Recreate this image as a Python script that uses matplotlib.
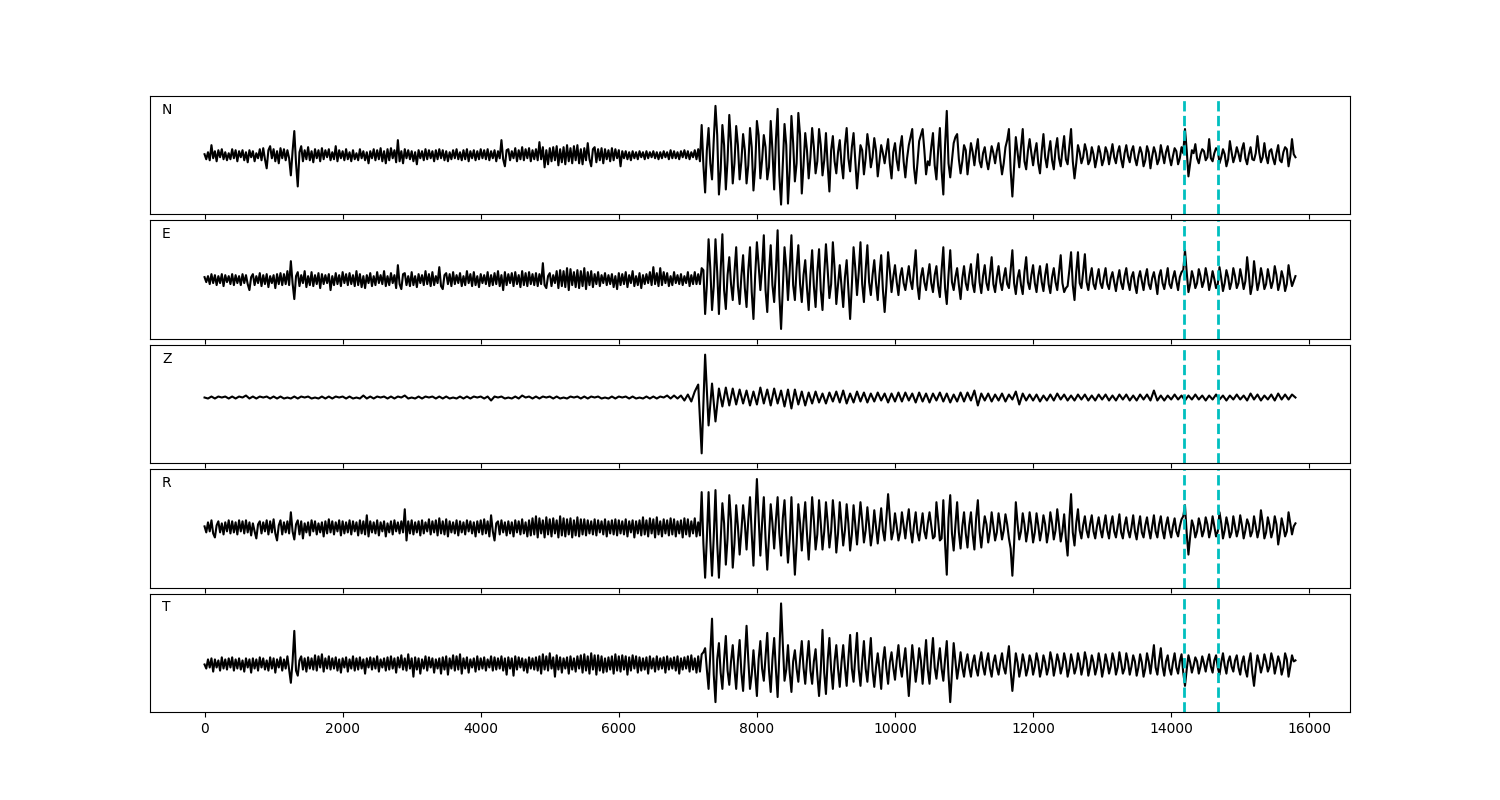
import numpy as np
import matplotlib
matplotlib.use("Agg")
import matplotlib.pyplot as plt

# ---- data (amplitude values, arbitrary units) ----
END_TIME = 15800          # last sample time
ONSET_T = 7200            # start of the strong-motion part
QUIET_DT = 25             # sample step of the pre-event noise
PICKS = [14180, 14680]    # dashed marker times
CHANNELS = ["N", "E", "Z", "R", "T"]

# pre-event noise, one value every 25 time units from t=0
N_quiet = [
    1,-4,3,-5,10,-3,4,-6,5,-2,6,-4,3,-5,2,-4,6,-3,5,-6,4,-2,5,-5,
    3,-7,5,-2,4,-6,2,-3,6,-5,7,-4,-13,5,9,-3,6,-6,4,-8,7,-3,6,-5,
    5,-3,-20,4,24,-8,-31,3,9,-6,5,-4,8,-5,4,-7,6,-3,5,-6,7,-4,5,-2,
    6,-5,3,-4,9,-6,5,-3,4,-5,6,-4,3,-6,5,-4,2,-5,6,-3,4,-5,3,-8,
    4,-3,6,-5,5,-4,7,-6,4,-8,6,-5,7,-3,5,-7,15,-6,4,-8,6,-3,5,-4,
    4,-6,3,-9,5,-3,4,-5,6,-4,5,-3,4,-6,5,-4,6,-3,5,-5,4,-6,3,-4,
    5,-3,6,-4,3,-5,5,-4,6,-6,4,-3,5,-5,4,-4,6,-3,5,-4,6,-5,4,-3,
    5,-6,4,-3,15,-4,-11,5,6,-5,4,-3,7,-6,5,-4,8,-5,6,-3,7,-6,5,-4,
    6,-5,13,-4,8,-12,5,-9,7,-6,8,-5,9,-10,6,-7,8,-9,10,-6,7,-8,9,-5,
    10,-8,6,-9,7,-5,12,-4,-11,6,8,-7,6,-5,7,-8,6,-4,5,-6,7,-5,6,-3,
    5,-11,4,-3,4,-4,3,-5,4,-3,3,-4,4,-2,3,-4,4,-3,3,-2,4,-3,3,-4,
    3,-3,4,-2,3,-4,5,-3,4,-3,3,-4,4,-2,5,-3,4,-4,3,-2,5,-4,6,-6,
]
# strong-motion part: main samples every 50 units from ONSET_T, and in-between samples
N_vals = [
    30,-37,27,-24,49,-39,
    30,-34,40,-28,29,-24,21,-28,27,-35, 34,-23,20,-24,34,-34,46,-49,31,-48,
    39,-26,42,-38,22,-23,27,-18,26,-20, 22,-36,19,-18,15,-23,27,-16,22,-33,
    10,-19,21,-12,17,-21,10,-8,16,-23, 12,-15,19,-22,10,26,-28,14,26,-19,
    -10,22,-24,27,-39,44,-22,12,21,-18, 10,-19,12,-10,16,-12,8,-14,9,-8,
    12,-19,8,26,-41,18,-12,26,-14,16, -10,12,-18,21,-12,14,-14,17,-11,19,
    -9,26,-23,
    10,-8,11,-9,8,-12,9,-10,8,-9, 11,-8,9,-12,10,-7,9,-10,8,-11, 9,-13,8,-9,10,-8,9,-10,7,-9, 8,
    26,-21,5,
    11,-8,6,-5,16,-6,7,-8,6,-11, 14,-7,8,-6,12,-9,8,-5,19,-7, 12,-8,6,-9,10,-7,8,-11,16,-2,
]
N_mid = [
    -10,5,-8,15,20,-15,
    10,-5,12,-8,10,-6,5,-10,8,-12, 20,-5,8,-12,5,15,-20,-10,10,-15,
    12,-8,20,-10,5,-2,8,-6,10,-5, -10,5,-6,3,-8,10,-3,8,-5,-12,
    5,-3,8,-2,5,-6,2,4,-8,3, -5,8,-6,-3,18,-12,-8,20,5,-6,
    8,-10,5,-15,10,-8,-5,18,-4,-6, 5,-4,3,5,-6,2,-5,-3,2,4,
    -5,-8,15,-15,-12,3,8,-6,4,2, 3,-8,4,-2,3,-5,6,-3,5,-4,
    8,-6,-8,
    3,-2,4,-5,1,-3,2,-4,3,1, -2,3,-4,2,-1,4,-3,0,2,-5, 3,-1,2,-4,1,3,-2,-1,4,-3,
    2,5,-8,2,-3,1,4,-2,-3,2, 5,-2,1,-4,3,-1,2,6,-3,1, -4,2,3,-2,-1,4,-3,2,-5,3,
    6,-1,1,
]

E_quiet = [
    3,-2,4,-4,6,-3,5,-5,4,-3,6,-6,5,-2,4,-4,6,-5,5,-3,4,-5,6,-3,
    5,-4,-10,3,6,-5,4,-3,7,-6,5,-4,6,-7,4,-3,5,-8,6,-4,7,-5,6,-4,
    9,-5,19,-3,-19,4,8,-6,5,-3,9,-7,4,-5,8,-6,5,-4,7,-8,6,-4,5,-3,
    6,-10,4,-5,7,-4,5,-6,8,-3,6,-5,7,-4,5,-6,9,-5,6,-7,4,-8,5,-3,
    7,-6,4,-5,8,-3,5,-4,9,-6,4,-5,7,-3,5,-8,15,-4,-9,6,7,-5,4,-6,
    8,-5,4,-7,6,-3,5,-5,9,-4,6,-6,8,-5,4,-3,13,-6,-9,5,7,-4,6,-6,
    8,-4,5,-3,7,-6,4,-5,9,-3,6,-6,8,-5,4,-7,6,-3,5,-4,8,-6,5,-5,
    7,-4,9,-6,5,-10,8,-5,6,-3,7,-6,8,-4,5,-7,9,-5,7,-6,8,-4,6,-5,
    7,-6,6,-4,17,-5,-8,4,7,-6,5,-3,9,-8,10,-6,9,-7,12,-10,11,-5,8,-7,
    10,-8,9,-6,12,-9,8,-5,9,-7,6,-4,8,-6,5,-3,7,-5,5,-4,6,-7,4,-9,
    7,-5,6,-4,8,-7,5,-3,9,-6,4,-5,7,-8,5,-4,6,-3,8,-5,13,-4,7,-6,
    12,-5,8,-3,7,-6,4,-5,8,-3,5,-4,6,-5,4,-3,8,-6,5,-4,8,-4,6,-4,
]
E_vals = [
    12,-34,41,-30,41,-34,
    46,-29,23,-20,33,-24,25,-27,33,-39, 38,-10,45,-32,35,-22,50,-49,33,-20,
    45,-20,35,-22,20,-30,30,-27,31,-30, 36,-18,38,-24,15,-27,20,-39,33,-15,
    38,-22,35,-15,20,-20,25,-32,28,-12, 15,-15,12,-10,14,-9,30,-19,12,-10,
    16,-12,14,-17,33,-24,30,-10,12,-19, 14,-10,16,-12,26,-13,15,-10,23,-12,
    14,-10,12,-8,30,-14,10,-14,23,-9, 15,-12,14,-11,16,-13,12,-10,25,-12,
    -6,28,-20,28,-8,26,-10,12,-9,11,
    -8,12,-9,8,-11,10,-9,12,-10,8,-13,9,-10,11,-9,8,-14,10,-9,12,-8,9,-10,8,
    30,-12,9,-8,11,-7,12,-10,9,-8,13,-11,10,-9,12,-8,11,-9,23,-14,19,-10,12,-9,11,-8,14,-10,9,-11,15,-6,4,
]
E_mid = [
    10,-5,12,-6,8,10,
    -10,5,-4,8,-6,4,-8,10,-12,5, 15,12,-10,8,-5,10,-15,-8,12,10,
    -5,12,-4,5,-8,5,-6,8,-10,6, 10,-4,12,-5,-6,3,-10,-5,12,8,
    -4,10,-2,5,-3,6,-10,-6,10,3, -2,4,-3,2,-1,10,-5,3,-2,4,
    -3,5,-6,10,-8,5,-2,3,-5,2, -3,5,-4,8,-2,4,-3,6,-4,3,
    -2,3,-4,10,-3,2,-5,8,-2,5, -3,4,-2,5,-4,3,-2,8,-3,-8,
    10,-5,8,-3,8,-2,3,-4,2,-3,
    3,-4,2,-2,1,-3,4,-2,3,-5,2,-1,3,-4,2,-2,4,-3,1,-4,2,-1,3,10,
    8,-4,2,-3,4,-1,3,-2,1,-4,2,-3,3,-2,4,-3,2,-1,6,-5,4,-2,3,-4,2,-1,5,-3,2,-4,3,-1,
]

# Z: single series, one value every 50 time units from t=0
Z_vals = [
    0,-1,1,-1,1,0,1,-1,1,-1, 1,0,2,-1,1,-1,1,0,1,-1, 1,-1,1,-1,0,-1,1,-1,1,0,
    1,-1,0,-1,1,-1,1,-1,1,0, 1,-1,1,-1,0,-1,2,-1,1,-1, 1,0,1,-1,1,-1,1,0,2,-1,
    0,-1,1,-1,1,0,1,-1,1,-1, 1,-1,0,-1,1,-1,1,-1,1,0, 1,-1,1,-3,1,0,1,-1,0,-1,
    1,-1,2,0,1,-1,1,-1,1,0, 1,-1,1,-1,0,-1,1,0,1,-1, 1,-1,1,0,1,-1,0,-1,1,-1,
    1,0,1,-1,1,-1,0,-1,1,-1, 1,-1,1,0,2,-1,2,-1,2,-3, 3,-4,6,13,-56,43,-28,14,-24,9,
    -9,10,-8,9,-7,8,-6,7,-8,6, -7,10,-6,8,-8,9,-6,7,-9,8, -11,8,-7,6,-8,5,-6,6,-5,4,
    -6,5,-4,6,-5,7,-6,4,-5,6, -4,5,-5,4,-4,5,-3,4,-5,4, -4,5,-4,5,-3,4,-5,5,-4,4,
    -5,4,-3,5,-4,4,-5,3,-4,5, -4,5,-3,7,-8,4,-3,4,-4,3, -3,4,-4,3,-2,6,-7,4,-3,3,
    -3,3,-4,2,-3,3,-3,4,-2,3, -3,2,-3,3,-2,3,-3,2,-3,3, -2,3,-3,2,-3,3,-2,3,-3,2,
    -3,3,-2,3,-3,7,-3,2,-3,2, -2,3,-2,2,-3,2,-2,3,-2,2, -3,2,-2,3,-2,2,-3,2,-2,3,
    -2,2,-3,4,-2,3,-3,2,-2,3, -3,4,-2,3,-2,3,0,
]

R_quiet = [
    2,-4,6,-3,8,-5,-9,3,7,-4,5,-6,6,-3,8,-5,7,-4,6,-6,8,-3,7,-5,
    8,-4,6,-7,5,-3,-10,4,7,-5,6,-3,8,-6,7,-4,9,-5,-12,3,8,-6,6,-4,
    7,-5,16,-3,-11,4,8,-6,7,-10,5,-4,6,-7,8,-3,7,-6,5,-4,6,-8,7,-5,
    9,-4,7,-6,6,-3,8,-7,7,-5,6,-4,8,-6,7,-3,6,-7,8,-5,7,-6,13,-8,
    7,-4,6,-5,8,-7,6,-3,7,-8,5,-4,7,-6,8,-3,6,-5,7,-4,19,-12,7,-5,
    8,-6,6,-4,7,-7,8,-5,6,-3,9,-6,7,-4,8,-7,10,-5,7,-6,9,-8,7,-4,
    6,-5,8,-7,7,-4,6,-6,8,-3,7,-5,6,-8,7,-4,8,-6,9,-5,7,-8,13,-3,
    -12,5,7,-6,8,-4,6,-7,7,-5,6,-8,8,-4,7,-6,9,-5,6,-8,8,-7,10,-6,
    12,-9,10,-5,8,-9,11,-6,9,-8,10,-5,8,-9,12,-7,10,-8,9,-6,10,-9,8,-7,
    11,-8,9,-6,9,-7,8,-5,7,-6,9,-7,8,-4,7,-6,9,-8,7,-5,8,-6,9,-7,
    8,-5,7,-6,9,-8,7,-4,8,-9,7,-5,8,-7,11,-6,8,-8,10,-5,9,-9,11,-6,
    7,-8,9,-5,8,-7,10,-6,9,-8,7,-5,8,-9,10,-6,9,-8,7,-5,10,-8,6,-7,
]
R_vals = [
    36,-49,36,-47,38,-49,
    25,-36,33,-39,23,-26,23,-21,31,-37, 49,-27,31,-41,24,-20,31,-27,28,-34,
    31,-46,24,-22,26,-31,31,-21,28,-21, 26,-19,28,-24,26,-17,24,-22,23,-16,
    26,-14,21,-17,18,-15,20,-12,34,-11, 15,-12,16,-10,19,-14,16,-12,15,-10,
    16,-10,26,-12,28,-46,33,-22,26,-20, 16,-19,16,-21,28,-19,12,-14,16,-12,
    15,-11,14,-10,-47,26,-11,15,-13,16, -14,15,-12,13,-14,16,-11,19,-13,14,
    -27,34,-17,19,-10,12,-9,13,-10,11,
    -9,13,-10,12,-9,14,-10,11,-9,13,-11,12,-9,11,-10,13,-9,12,-10,11,-9,10,-8,9,
    23,-26,8,-9,10,-8,11,-9,12,-8,16,-10,11,-9,12,-8,13,-10,9,-8,12,-9,18,-10,11,-9,12,-16,10,-8,16,-6,5,
]
R_mid = [
    -15,-10,-12,-8,-15,-12,
    5,-10,8,-15,2,-3,5,8,-5,10, 12,5,-10,-8,5,8,-5,10,-6,-10,
    -12,-15,5,6,-5,-3,8,-6,5,-3, 6,-3,8,-5,4,-2,5,-6,3,5,
    8,-2,3,-4,2,3,-2,10,12,-3, 2,-4,3,6,-2,3,-4,2,-3,5,
    3,-8,8,-10,-15,10,-5,3,-4,2, -5,3,-6,10,-3,-2,4,-3,2,-4,
    3,-2,4,-20,-15,5,-3,4,-2,3, -4,3,-2,4,-3,5,-2,4,-3,-10,
    8,-4,5,-2,3,-2,4,-3,2,-1,
    3,-2,4,-3,2,-4,3,-2,1,-3,2,-4,3,-1,2,-3,4,-2,3,-1,2,-3,2,12,
    -5,-8,2,-3,3,-2,4,-1,2,-3,5,-2,3,-4,2,-1,3,-2,4,-3,2,-1,6,-4,3,-2,4,-5,2,-3,5,2,
]

T_quiet = [
    0,-4,5,-3,6,-7,5,-3,4,-6,7,-4,5,-5,6,-3,7,-6,5,-4,6,-5,4,-7,
    6,-3,5,-8,6,-4,5,-6,7,-3,6,-5,4,-6,7,-4,6,-8,5,-3,7,-6,5,-4,
    8,-5,-18,3,33,-6,-11,4,8,-5,6,-7,7,-4,6,-5,9,-6,8,-3,10,-7,6,-4,
    8,-5,6,-4,7,-6,5,-8,6,-3,7,-7,5,-4,8,-6,6,-5,7,-4,5,-9,6,-3,
    7,-5,6,-4,8,-7,5,-3,6,-6,7,-5,8,-4,6,-8,7,-3,9,-5,6,-6,10,-4,
    6,-12,7,-5,6,-9,5,-4,8,-6,7,-3,6,-8,5,-4,6,-9,7,-5,8,-10,6,-4,
    9,-6,8,-5,10,-9,6,-4,7,-8,5,-3,6,-7,8,-5,6,-4,7,-6,5,-3,8,-6,
    7,-5,6,-4,8,-6,6,-10,7,-4,6,-11,8,-5,7,-3,6,-6,5,-8,7,-4,6,-5,
    7,-6,8,-9,10,-5,8,-6,11,-4,7,-12,9,-5,7,-8,6,-4,7,-9,8,-5,6,-7,
    8,-4,9,-8,10,-6,8,-9,11,-5,9,-10,9,-6,8,-8,6,-7,7,-5,8,-9,10,-6,
    8,-7,9,-5,8,-10,7,-6,9,-4,8,-8,7,-6,6,-5,7,-9,8,-4,6,-7,8,-5,
    6,-4,7,-8,8,-5,6,-4,7,-6,8,-9,6,-5,7,-4,8,-7,9,-5,6,-8,8,-7,
]
T_vals = [
    10,16,-24,45,-37,21,
    -24,28,-20,19,-24,24,-26,38,-24,14, -31,23,-16,31,-27,26,-32,60,-16,19,
    -27,14,-17,23,-19,23,-19,15,-31,34, -29,26,-24,19,-22,19,-21,29,-17,31,
    -21,23,-17,26,-22,11,-24,17,-19,12, -15,19,-12,16,-31,19,-17,16,-19,24,
    -19,26,-14,16,-16,23,-37,21,-14,12, -12,10,-12,9,-11,12,-10,11,-12,9,
    -10,11,-9,18,-26,11,-12,10,-11,9, -10,11,-12,9,-10,12,-11,10,-9,11,
    -12,10,-9,11,-10,12,-11,9,-10,11, -12,10,-9,11,-10,12,-9,11,-10,9,
    -11,10,-12,11,-9,19,-10,16,-11,9, -10,11,-9,10,
    -21,9,-8,7,-9,8,-7,10,-8,9,-10,11,-9,8,-7,9,-10,8,-12,11,-21,9,-8,10,-7,11,-9,8,-10,11,-12,9,4,
]
T_mid = [
    12,-5,10,-10,5,-8,
    5,-6,3,-5,4,-8,6,5,-10,-8, 5,-4,8,-6,5,-5,10,20,-5,-8,
    3,-4,5,-3,4,-6,3,-10,-5,-8, 4,-5,3,-4,2,-3,6,-4,8,-5,
    3,-4,5,-6,-3,-5,3,-4,2,-3, 4,-2,3,-8,-5,2,-3,4,3,-5,
    6,-3,2,-4,5,-10,-8,3,-2,-3, 2,-3,2,-4,3,-2,3,-4,2,-3,
    2,-3,5,-6,-8,2,-3,2,-4,3, -2,3,-4,2,-3,4,-2,3,-2,3,
    -4,2,-3,3,-2,4,-3,2,-3,2, -3,2,-2,4,-3,2,-4,3,-2,3,
    -3,2,-4,3,5,-3,4,-2,3,-4, 2,-3,3,-8,
    -5,2,-1,3,-2,1,3,-2,4,-3,2,-1,3,-2,4,-3,2,-5,3,-8,-4,2,-1,3,-2,4,-1,2,-3,5,-2,3,
]

TRACES = {
    "N": (N_quiet, N_vals, N_mid),
    "E": (E_quiet, E_vals, E_mid),
    "Z": (None, Z_vals, None),
    "R": (R_quiet, R_vals, R_mid),
    "T": (T_quiet, T_vals, T_mid),
}


def build(quiet, vals, mids):
    """Return (time, amplitude) arrays for one channel."""
    if quiet is None:
        v = np.asarray(vals, float)
        return np.linspace(0, END_TIME, len(v)), v
    q = np.asarray(quiet, float)
    tq = np.arange(len(q)) * QUIET_DT
    c = np.asarray(vals, float)
    tc = np.linspace(ONSET_T, END_TIME, len(c))
    m = np.asarray(mids, float)
    if len(m) == len(c) - 1:
        tm = 0.5 * (tc[:-1] + tc[1:])
    else:
        tm = np.linspace(tc[0], tc[-1], len(m) + 2)[1:-1]
    t = np.concatenate([tq, tc, tm])
    y = np.concatenate([q, c, m])
    order = np.argsort(t, kind="stable")
    return t[order], y[order]


# ---- plotting ----
fig, axes = plt.subplots(5, 1, sharex=True, figsize=(15, 8), dpi=100)
fig.subplots_adjust(left=0.1, right=0.9, bottom=0.11, top=0.88, hspace=0.05)

for ax, name in zip(axes, CHANNELS):
    t, v = build(*TRACES[name])
    y = 2.0 * (v - v.min()) / (v.max() - v.min()) - 1.0
    ax.plot(t, y, color="k", lw=1.5)
    for p in PICKS:
        ax.axvline(p, color="c", ls="--", lw=2)
    ax.set_ylim(-1.2, 1.2)
    ax.set_yticks([])
    ax.text(0.01, 0.85, name, transform=ax.transAxes, fontsize=10)

fig.savefig("out.png", dpi=100)
